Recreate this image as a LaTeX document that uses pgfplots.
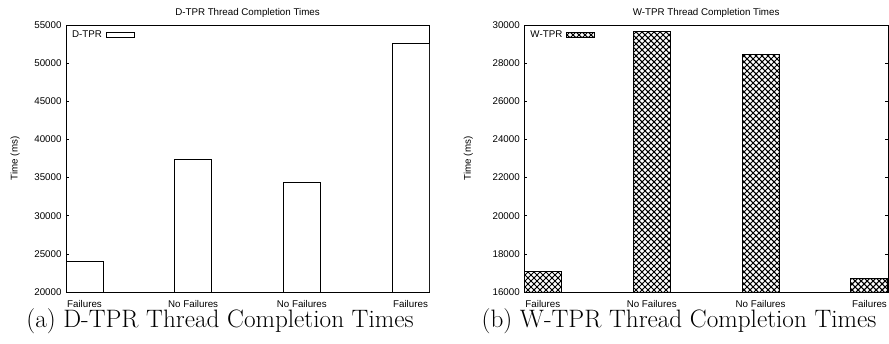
\documentclass[border=0pt]{standalone}
\usepackage{fontspec}
\usepackage{pgfplots}
\pgfplotsset{compat=1.18}
\usetikzlibrary{patterns}
\newfontfamily\arial{Liberation Sans}
\newcommand\sm{\arial\fontsize{9.8}{11}\selectfont}
\pgfdeclarepatternformonly{xhatch}{\pgfpoint{-1bp}{-1bp}}{\pgfpoint{7bp}{7bp}}{\pgfpoint{6bp}{6bp}}{%
  \pgfsetlinewidth{1.05bp}%
  \pgfpathmoveto{\pgfpoint{-1bp}{-1bp}}\pgfpathlineto{\pgfpoint{7bp}{7bp}}%
  \pgfpathmoveto{\pgfpoint{-1bp}{7bp}}\pgfpathlineto{\pgfpoint{7bp}{-1bp}}%
  \pgfusepath{stroke}}

\pgfplotsset{
  gp/.style={
    scale only axis, height=267bp, anchor=south west,
    xmin=-0.17, xmax=3.17,
    xtick={0,1,2,3},
    xticklabels={Failures,No Failures,No Failures,Failures},
    x tick style={draw=none},
    ytick pos=both, tick align=inside,
    major tick length=3bp,
    axis line style={line width=0.9bp},
    tick style={black, line width=0.7bp},
    ybar, bar width=37bp,
    scaled y ticks=false,
    /pgf/number format/assume math mode=true,
    /pgf/number format/set thousands separator={},
    tick label style={font=\sm},
    yticklabel style={anchor=east, xshift=-1bp},
    xticklabel style={anchor=base, inner sep=0pt, yshift=-12.5bp},
    title style={font=\sm, anchor=base, yshift=3.5bp},
    ylabel style={font=\sm, rotate=0, anchor=center},
    legend style={font=\sm, draw=none, fill=none, at={(axis description cs:0,1)}, anchor=north west,
      legend plot pos=right, inner sep=1bp, xshift=3bp, yshift=-2.5bp,
      column sep=2bp, legend cell align=left},
    legend image code/.code={\draw[#1, line width=0.9bp] (0bp,-2.5bp) rectangle (28bp,2.5bp);},
  }
}

\begin{document}
\begin{tikzpicture}
\useasboundingbox (0bp,0bp) rectangle (889bp,344bp);
\begin{axis}[gp, at={(66bp,52bp)}, width=363bp,
  ymin=20000, ymax=55000, ytick={20000,25000,...,55000},
  title={D-TPR Thread Completion Times},
  ylabel={Time (ms)}, ylabel style={at={(axis description cs:-0.14,0.5)}}]
\addplot[draw=black, fill=white, line width=0.8bp] coordinates {(0,23970) (1,37430) (2,34420) (3,52550)};
\addlegendentry{D-TPR}
\end{axis}
\begin{axis}[gp, at={(524.3bp,52bp)}, width=363.7bp,
  ymin=16000, ymax=30000, ytick={16000,18000,...,30000},
  title={W-TPR Thread Completion Times},
  ylabel={Time (ms)}, ylabel style={at={(axis description cs:-0.154,0.5)}}]
\addplot[draw=black, pattern=xhatch, line width=1bp] coordinates {(0,17090) (1,29650) (2,28460) (3,16700)};
\addlegendentry{W-TPR}
\end{axis}
\node[anchor=base, font=\fontsize{25.3}{30}\selectfont, inner sep=0] at (220bp,17bp) {(a) D-TPR Thread Completion Times};
\node[anchor=base, font=\fontsize{25.3}{30}\selectfont, inner sep=0] at (679bp,17bp) {(b) W-TPR Thread Completion Times};
\end{tikzpicture}
\end{document}
